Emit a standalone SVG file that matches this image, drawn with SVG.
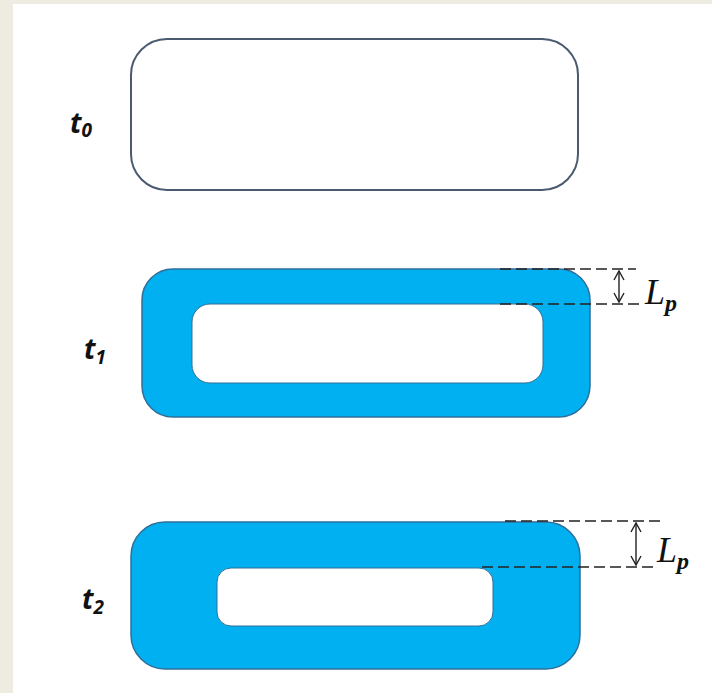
<svg xmlns="http://www.w3.org/2000/svg" width="712" height="693" viewBox="0 0 712 693">
<style>
.bg{fill:#eeebe0}
.outer{fill:#00b0f0;stroke:#2f6f9a;stroke-width:1.5}
.inner{fill:#ffffff;stroke:#2f6f9a;stroke-width:1}
.dash{stroke:#222;stroke-width:1.6;stroke-dasharray:11,5;fill:none}
.arr{stroke:#222;stroke-width:1.4;fill:none}
.lbl{font-family:"Open Sans","DejaVu Sans",sans-serif;font-style:italic;font-weight:bold;font-size:28px;fill:#111}
.lp{font-family:"Liberation Serif","Times New Roman",serif;font-style:italic;font-size:36px;fill:#111}
</style>
<defs>
<marker id="ah" markerWidth="14" markerHeight="14" refX="10" refY="6" orient="auto-start-reverse" markerUnits="userSpaceOnUse">
<path d="M1,1 L10,6 L1,11" fill="none" stroke="#222" stroke-width="1.4"/>
</marker>
</defs>
<rect class="bg" x="0" y="0" width="712" height="693"/>
<rect x="13" y="4" width="699" height="689" fill="#ffffff"/>

<g id="t0">
<rect x="131" y="39" width="447" height="151" rx="36" ry="36" fill="#ffffff" stroke="#4a5a70" stroke-width="2"/>
<text class="lbl" x="70" y="133">t<tspan font-size="19" dy="4">0</tspan></text>
</g>

<g id="t1">
<rect class="outer" x="142" y="269" width="448" height="148" rx="31" ry="31"/>
<rect class="inner" x="192" y="304" width="351" height="79" rx="18" ry="18"/>
<text class="lbl" x="84" y="359">t<tspan font-size="19" dy="5">1</tspan></text>
</g>

<g id="t2">
<rect class="outer" x="131" y="522" width="449" height="147" rx="34" ry="34"/>
<rect class="inner" x="217" y="568" width="276" height="58" rx="14" ry="14"/>
<text class="lbl" x="82" y="609">t<tspan font-size="19" dy="5">2</tspan></text>
</g>

<g id="connectors">
<line class="dash" x1="500" y1="269" x2="636" y2="269"/>
<line class="dash" x1="500" y1="304" x2="640" y2="304"/>
<line class="arr" x1="619" y1="271" x2="619" y2="302" marker-start="url(#ah)" marker-end="url(#ah)"/>
<line class="dash" x1="505" y1="521" x2="660" y2="521"/>
<line class="dash" x1="482" y1="567" x2="657" y2="567"/>
<line class="arr" x1="636" y1="523" x2="636" y2="565" marker-start="url(#ah)" marker-end="url(#ah)"/>
</g>

<g id="labels">
<text class="lp" x="645" y="304">L<tspan font-size="24" dy="7" font-weight="bold">p</tspan></text>
<text class="lp" x="657" y="562">L<tspan font-size="24" dy="7" font-weight="bold">p</tspan></text>
</g>
</svg>
